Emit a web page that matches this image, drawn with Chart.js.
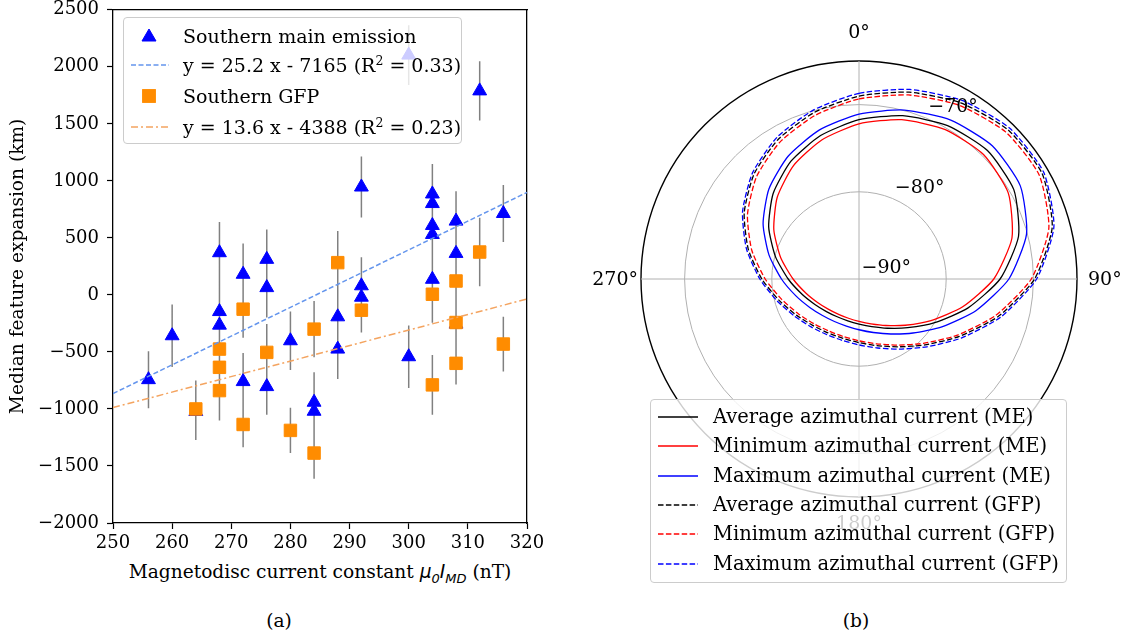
<!DOCTYPE html>
<html>
<head>
<meta charset="utf-8">
<script src="https://cdn.jsdelivr.net/npm/chart.js@4.4.0/dist/chart.umd.min.js"></script>
<style>
  body { margin: 0; background: #fff; font-family: "DejaVu Serif", serif; color: #000; }
  #page { position: relative; width: 1127px; height: 637px; overflow: hidden; }
  #scatterBox { position: absolute; left: 0; top: 0; }
  #polarBox { position: absolute; left: 570px; top: 0; }
  .legend { position: absolute; box-sizing: border-box; background: rgba(255,255,255,0.8);
            border: 1px solid #cccccc; border-radius: 4px; }
  .legend svg { position: absolute; overflow: visible; }
  .legend .lbl { position: absolute; font-size: 19px; line-height: 20px; white-space: nowrap; }
  #legB .lbl { font-size: 19.5px; }
  .math { font-family: "DejaVu Sans", sans-serif; font-style: italic; }
  .math sub { font-size: 70%; line-height: 0; }
  .caption { position: absolute; font-size: 18.6px; line-height: 22px; text-align: center; white-space: nowrap; }
</style>
</head>
<body>
<div id="page">
  <div id="scatterBox"><canvas id="scatterChart" width="560" height="556"></canvas></div>
  <div id="polarBox"><canvas id="polarChart" width="557" height="560"></canvas></div>

  <!-- legend (a) -->
  <div class="legend" style="left:123px; top:17px; width:339px; height:127px;">
    <svg style="left:4px; top:10px;" width="42" height="16"><polygon points="21,1 14,13 28,13" fill="#0000ff" stroke="#0000ff" stroke-width="1"/></svg>
    <span class="lbl" style="left:59px; top:8px;">Southern main emission</span>
    <svg style="left:4px; top:39px;" width="42" height="16"><line x1="3" y1="8" x2="41" y2="8" stroke="#6495ED" stroke-width="1.5" stroke-dasharray="5 2.5"/></svg>
    <span class="lbl" style="left:59px; top:37px;">y = 25.2 x - 7165 (R<sup style="font-size:12.5px;line-height:0">2</sup> = 0.33)</span>
    <svg style="left:4px; top:70px;" width="42" height="16"><rect x="14.6" y="1.6" width="12.8" height="12.8" fill="#ff8c00" stroke="#ff8c00" stroke-width="1"/></svg>
    <span class="lbl" style="left:59px; top:68px;">Southern GFP</span>
    <svg style="left:4px; top:101px;" width="42" height="16"><line x1="3" y1="8" x2="41" y2="8" stroke="#F4A460" stroke-width="1.5" stroke-dasharray="7 3 2 3"/></svg>
    <span class="lbl" style="left:59px; top:99px;">y = 13.6 x - 4388 (R<sup style="font-size:12.5px;line-height:0">2</sup> = 0.23)</span>
  </div>

  <div class="caption" style="left:0; top:561px; width:640px;">Magnetodisc current constant <span class="math">μ<sub>0</sub>I<sub>MD</sub></span> (nT)</div>
  <div class="caption" style="left:229px; top:610px; width:100px;">(a)</div>
  <div class="caption" style="left:806px; top:610px; width:100px;">(b)</div>

  <!-- legend (b) -->
  <div class="legend" id="legB" style="left:650px; top:399px; width:417px; height:184px;"></div>
</div>

<script>
// ---------------- data (a) ----------------
const meX = [256, 260, 264, 268, 268, 268, 272, 272, 276, 276, 276, 280, 284, 284, 288, 288, 292, 292, 292, 300, 300, 304, 304, 304, 304, 304, 308, 308, 308, 312, 316];
const meY = [-743, -358, -1022, 370, -146, -265, 181, -760, 312, 64, -804, -402, -941, -1020, -192, -475, 946, 80, -20, 2103, -542, 885, 801, 609, 530, 137, 647, 364, -256, 1789, 714];
const meErr = [250, 275, 250, 270, 270, 270, 270, 250, 262, 262, 247, 256, 262, 262, 262, 262, 268, 250, 250, 262, 274, 262, 262, 262, 262, 262, 262, 262, 262, 260, 250];

const gfpX = [264, 268, 268, 268, 272, 272, 276, 280, 284, 284, 288, 292, 304, 304, 308, 308, 308, 312, 316];
const gfpY = [-1000, -475, -635, -839, -125, -1136, -504, -1188, -300, -1387, 283, -134, 6, -789, 122, -242, -600, 376, -431];
const gfpErr = [250, 262, 262, 262, 250, 200, 250, 198, 247, 224, 277, 196, 250, 262, 250, 250, 186, 300, 240];

const fitX = [250, 320];
const meFitY = [-865, 899];
const gfpFitY = [-988, -36];

// ---------------- data (b) ----------------
const azimuths = ['0°', '15°', '30°', '45°', '60°', '75°', '90°', '105°', '120°', '135°', '150°', '165°',
                  '180°', '195°', '210°', '225°', '240°', '255°', '270°', '285°', '300°', '315°', '330°', '345°'];
const avgME = [-71.73, -70.61, -69.68, -69.17, -69.50, -71.06, -73.82, -77.09, -79.98, -82.10, -83.48, -84.34, -84.83, -85.03, -85.00, -84.72, -84.16, -83.24, -81.88, -80.08, -78.04, -76.09, -74.40, -72.97];
const minME = [-72.20, -71.08, -70.21, -69.81, -70.24, -71.84, -74.54, -77.69, -80.47, -82.50, -83.84, -84.67, -85.14, -85.34, -85.32, -85.07, -84.56, -83.71, -82.44, -80.72, -78.72, -76.74, -74.98, -73.49];
const maxME = [-71.08, -69.94, -68.96, -68.39, -68.64, -70.11, -72.81, -76.08, -79.03, -81.24, -82.72, -83.65, -84.18, -84.41, -84.37, -84.08, -83.48, -82.51, -81.11, -79.31, -77.30, -75.39, -73.74, -72.33];
const avgGFP = [-69.02, -67.82, -66.67, -65.82, -65.76, -67.06, -69.86, -73.45, -76.79, -79.31, -81.02, -82.09, -82.70, -82.95, -82.87, -82.48, -81.71, -80.52, -78.86, -76.86, -74.80, -72.98, -71.49, -70.22];
const minGFP = [-69.35, -68.15, -67.00, -66.18, -66.14, -67.46, -70.24, -73.79, -77.07, -79.56, -81.25, -82.31, -82.91, -83.16, -83.10, -82.72, -81.99, -80.85, -79.24, -77.27, -75.23, -73.39, -71.87, -70.57];
const maxGFP = [-68.70, -67.49, -66.36, -65.55, -65.54, -66.86, -69.63, -73.16, -76.46, -78.99, -80.72, -81.81, -82.44, -82.70, -82.63, -82.23, -81.47, -80.28, -78.63, -76.64, -74.58, -72.75, -71.22, -69.92];

const latTicks = [-90, -80, -70, -65];
const latLabels = ['−90°', '−80°', '−70°'];
const compassLabels = ['0°', '90°', '180°', '270°'];

Chart.defaults.font.family = '"DejaVu Serif", serif';
Chart.defaults.font.size = 18;
Chart.defaults.color = '#000';

// -------------------------- helpers --------------------------
function toPoints(xs, ys) {
    return xs.map((x, i) => ({ x: x, y: ys[i] }));
}

function errorSegments(xs, ys, errs) {
    const pts = [];
    xs.forEach((x, i) => {
        pts.push({ x: x, y: ys[i] - errs[i] });
        pts.push({ x: x, y: ys[i] + errs[i] });
        pts.push({ x: x, y: null });
    });
    return pts;
}

const minus = v => (v < 0 ? '\u2212' + Math.abs(v) : String(v));

// -------------------------- chart (a) --------------------------
const axisGrid = { drawOnChartArea: false, drawTicks: true, tickLength: 6, tickWidth: 1.2, color: '#000' };
const axisBorder = { display: true, color: '#000', width: 1.3 };

new Chart(document.getElementById('scatterChart'), {
    type: 'scatter',
    data: {
        datasets: [
            {
                label: 'err',
                data: errorSegments(meX, meY, meErr).concat(errorSegments(gfpX, gfpY, gfpErr)),
                showLine: true, spanGaps: false,
                borderColor: '#808080', borderWidth: 1.5,
                pointRadius: 0, order: 3
            },
            {
                label: 'Southern main emission',
                data: toPoints(meX, meY),
                pointStyle: 'triangle', pointRadius: 8, borderWidth: 1,
                backgroundColor: '#0000ff', borderColor: '#0000ff', order: 2
            },
            {
                label: 'Southern GFP',
                data: toPoints(gfpX, gfpY),
                pointStyle: 'rect', pointRadius: 8.8, borderWidth: 1,
                backgroundColor: '#ff8c00', borderColor: '#ff8c00', order: 1
            },
            {
                label: 'fit ME',
                data: toPoints(fitX, meFitY),
                showLine: true, pointRadius: 0,
                borderColor: '#6495ED', borderWidth: 1.5, borderDash: [5, 2.5], order: 0
            },
            {
                label: 'fit GFP',
                data: toPoints(fitX, gfpFitY),
                showLine: true, pointRadius: 0,
                borderColor: '#F4A460', borderWidth: 1.5, borderDash: [7, 3, 2, 3], order: 0
            }
        ]
    },
    options: {
        responsive: false,
        animation: false,
        devicePixelRatio: 1,
        events: [],
        layout: { padding: { left: 0, top: 8, right: 33, bottom: 0 } },
        plugins: { legend: { display: false }, tooltip: { enabled: false } },
        scales: {
            x: {
                type: 'linear', position: 'bottom', min: 250, max: 320,
                ticks: { stepSize: 10, padding: 4, font: { size: 18 } },
                grid: axisGrid, border: axisBorder,
                afterFit: s => { s.height = 33; }
            },
            y: {
                type: 'linear', position: 'left', min: -2000, max: 2500,
                ticks: { stepSize: 500, padding: 8, font: { size: 18 }, callback: v => minus(v) },
                grid: axisGrid, border: axisBorder,
                title: { display: true, text: 'Median feature expansion (km)', font: { size: 18.6 }, padding: { top: 7, bottom: 4 } },
                afterFit: s => { s.width = 113; s.paddingTop = 0; s.paddingBottom = 0; }
            },
            x2: {
                type: 'linear', position: 'top', min: 250, max: 320,
                ticks: { display: false }, grid: { drawOnChartArea: false, drawTicks: false },
                border: axisBorder, afterFit: s => { s.height = 0; }
            },
            y2: {
                type: 'linear', position: 'right', min: -2000, max: 2500,
                ticks: { display: false }, grid: { drawOnChartArea: false, drawTicks: false },
                border: axisBorder, afterFit: s => { s.width = 0; }
            }
        }
    }
});

// -------------------------- chart (b) --------------------------
const polarText = {
    id: 'polarText',
    afterDatasetsDraw(chart) {
        const r = chart.scales.r;
        const ctx = chart.ctx;
        const cx = r.xCenter, cy = r.yCenter, R = r.drawingArea;
        ctx.save();
        ctx.fillStyle = '#000';
        ctx.font = '19px "DejaVu Serif"';
        ctx.textBaseline = 'middle';
        ctx.textAlign = 'center';
        ctx.fillText(compassLabels[0], cx, cy - R - 28);
        ctx.fillText(compassLabels[2], cx, cy + R + 27);
        ctx.textAlign = 'left';
        ctx.fillText(compassLabels[1], cx + R + 11, cy + 1);
        ctx.textAlign = 'right';
        ctx.fillText(compassLabels[3], cx - R - 3, cy + 1);

        // latitude labels along the 22.5 degree direction
        const a = 22.5 * Math.PI / 180;
        ctx.textAlign = 'left';
        latLabels.forEach((txt, i) => {
            const d = r.getDistanceFromCenterForValue(latTicks[i]);
            ctx.fillText(txt, cx + d * Math.sin(a) + 2.5, cy - d * Math.cos(a) - 10.5);
        });
        ctx.restore();
    }
};

const curves = [
    { label: 'Average azimuthal current (ME)', data: avgME, color: '#000000', dash: [] },
    { label: 'Minimum azimuthal current (ME)', data: minME, color: '#ff0000', dash: [] },
    { label: 'Maximum azimuthal current (ME)', data: maxME, color: '#0000ff', dash: [] },
    { label: 'Average azimuthal current (GFP)', data: avgGFP, color: '#000000', dash: [5.5, 2.4] },
    { label: 'Minimum azimuthal current (GFP)', data: minGFP, color: '#ff0000', dash: [5.5, 2.4] },
    { label: 'Maximum azimuthal current (GFP)', data: maxGFP, color: '#0000ff', dash: [5.5, 2.4] }
];

new Chart(document.getElementById('polarChart'), {
    type: 'radar',
    data: {
        labels: azimuths,
        datasets: curves.map(c => ({
            label: c.label,
            data: c.data,
            borderColor: c.color,
            borderWidth: 1.3,
            borderDash: c.dash,
            fill: false,
            pointRadius: 0,
            tension: 0.2
        }))
    },
    options: {
        responsive: false,
        animation: false,
        devicePixelRatio: 1,
        events: [],
        layout: { padding: { left: 71, top: 61, right: 50, bottom: 63 } },
        plugins: { legend: { display: false }, tooltip: { enabled: false } },
        scales: {
            r: {
                min: -90, max: -65,
                afterBuildTicks: s => { s.ticks = latTicks.map(v => ({ value: v })); },
                ticks: { display: false },
                pointLabels: { display: false },
                grid: {
                    circular: true,
                    color: c => (c.tick && c.tick.value === -65 ? '#000000' : '#b0b0b0'),
                    lineWidth: c => (c.tick && c.tick.value === -65 ? 1.4 : 1)
                },
                angleLines: {
                    display: true,
                    lineWidth: 1,
                    color: c => (c.index % 6 === 0 ? '#b0b0b0' : 'rgba(0,0,0,0)')
                }
            }
        }
    },
    plugins: [polarText]
});

// -------------------------- legend (b) --------------------------
const legB = document.getElementById('legB');
curves.forEach((c, i) => {
    const yc = 17 + i * 29.3;
    const svgNS = 'http://www.w3.org/2000/svg';
    const svg = document.createElementNS(svgNS, 'svg');
    svg.setAttribute('width', '46');
    svg.setAttribute('height', '10');
    svg.style.left = '4px';
    svg.style.top = (yc - 5) + 'px';
    const line = document.createElementNS(svgNS, 'line');
    line.setAttribute('x1', '3'); line.setAttribute('x2', '43');
    line.setAttribute('y1', '5'); line.setAttribute('y2', '5');
    line.setAttribute('stroke', c.color);
    line.setAttribute('stroke-width', '1.5');
    if (c.dash.length) line.setAttribute('stroke-dasharray', c.dash.join(' '));
    svg.appendChild(line);
    legB.appendChild(svg);

    const lbl = document.createElement('span');
    lbl.className = 'lbl';
    lbl.style.left = '62px';
    lbl.style.top = (yc - 10) + 'px';
    lbl.innerText = c.label;
    legB.appendChild(lbl);
});
</script>
</body>
</html>
